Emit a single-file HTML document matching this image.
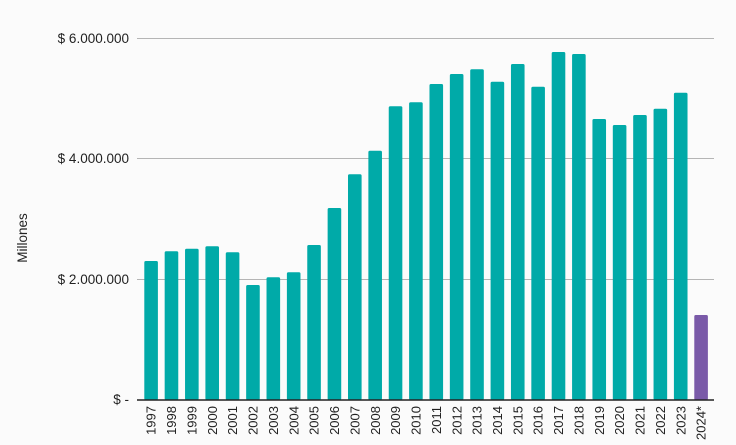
<!DOCTYPE html>
<html><head><meta charset="utf-8"><style>
body{margin:0;background:#fbfbfb;}
svg{display:block;font-family:"Liberation Sans",sans-serif;}
</style></head><body>
<svg width="736" height="445" viewBox="0 0 736 445">
<rect width="736" height="445" fill="#fbfbfb"/>
<g stroke="#b5b5b5" stroke-width="1">
<line x1="137" x2="714" y1="38.5" y2="38.5"/>
<line x1="137" x2="714" y1="158.5" y2="158.5"/>
<line x1="137" x2="714" y1="279.5" y2="279.5"/>
</g>
<g font-size="13.5" fill="#222" text-anchor="end">
<text x="129" y="43">$ 6.000.000</text>
<text x="129" y="163">$ 4.000.000</text>
<text x="129" y="284">$ 2.000.000</text>
<text x="129" y="404">$ -</text>
</g>
<text transform="translate(27,238) rotate(-90)" font-size="13.5" fill="#222" text-anchor="middle">Millones</text>
<g id="bars"></g>
<line x1="137" x2="714" y1="400" y2="400" stroke="#222" stroke-width="1.5"/>
<g id="labels" font-size="13" fill="#222"></g>
<script>
var tops=[261,251.3,248.7,246.3,252.3,285,277.3,272.3,245,208,174.3,150.7,106.3,102.3,84,74,69.3,81.7,64,86.7,52,54,119,125,115,108.7,92.7,315];
var b=document.getElementById('bars'),l=document.getElementById('labels'),ns='http://www.w3.org/2000/svg';
for(var i=0;i<28;i++){
 var x=144.3+i*20.37;
 var r=document.createElementNS(ns,'rect');
 r.setAttribute('x',x);r.setAttribute('y',tops[i]);r.setAttribute('width',13.6);r.setAttribute('height',400-tops[i]);
 r.setAttribute('rx',1.5);r.setAttribute('fill',i==27?'#7a5aa8':'#00aaa8');b.appendChild(r);
 var t=document.createElementNS(ns,'text');
 var cx=x+6.8+4.6;
 t.setAttribute('transform','translate('+cx+',406) rotate(-90)');t.setAttribute('text-anchor','end');
 t.textContent=i==27?'2024*':String(1997+i);l.appendChild(t);
}
</script>
</svg>
</body></html>
